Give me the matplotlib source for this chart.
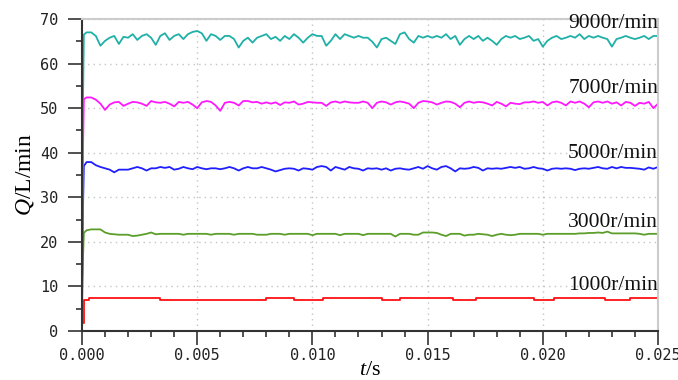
import numpy as np
import matplotlib
matplotlib.use("Agg")
import matplotlib.pyplot as plt
from matplotlib.ticker import MultipleLocator, FuncFormatter

plt.rcParams['mathtext.fontset'] = 'custom'
plt.rcParams['mathtext.rm'] = 'Liberation Serif'
plt.rcParams['mathtext.it'] = 'Liberation Serif:italic'

# simulation output, sample step 0.2 ms after start-up
DT = 0.0002

# start-up points (t, Q) common times
t_start = [0.0, 0.00004, 0.00008]

q9000_start = [0.0, 50.0, 66.5]
q9000 = [67.0, 67.0, 66.2, 64.0, 65.1, 65.8, 66.2, 64.4, 66.0, 65.8, 66.6, 65.3, 66.2, 66.6,
         65.8, 64.2, 66.2, 66.8, 65.3, 66.2, 66.6, 65.5, 66.6, 67.1, 67.3, 66.8, 65.1, 66.6,
         66.2, 65.3, 66.2, 66.2, 65.5, 63.6, 65.1, 65.8, 64.7, 65.8, 66.2, 66.6, 65.5, 66.0,
         65.1, 66.2, 65.5, 66.6, 65.8, 64.7, 65.8, 66.6, 66.2, 66.2, 64.0, 65.1, 66.6, 65.5,
         66.6, 66.2, 65.8, 66.2, 65.8, 65.8, 64.9, 63.6, 65.5, 65.8, 65.1, 64.4, 66.6, 67.0,
         65.5, 64.7, 66.2, 65.8, 66.2, 65.8, 66.2, 65.8, 66.6, 65.5, 66.2, 64.2, 65.5, 66.2,
         65.5, 66.2, 65.1, 65.8, 65.1, 64.2, 65.5, 66.2, 65.8, 66.2, 65.5, 65.8, 66.2, 65.1,
         65.5, 63.8, 65.1, 65.8, 66.2, 65.5, 65.8, 66.2, 65.8, 66.6, 65.5, 66.2, 65.8, 66.2,
         65.8, 65.5, 63.8, 65.5, 65.8, 66.2, 65.8, 65.5, 65.8, 66.2, 65.5, 66.2, 66.2]

q7000_start = [12.0, 40.0, 52.0]
q7000 = [52.4, 52.4, 51.9, 51.0, 49.6, 50.8, 51.3, 51.4, 50.5, 51.0, 51.4, 51.3, 51.0, 50.5,
         51.6, 51.3, 51.2, 51.4, 51.0, 50.4, 51.4, 51.2, 51.4, 50.8, 50.0, 51.3, 51.6, 51.4,
         50.6, 49.4, 51.2, 51.4, 51.2, 50.6, 51.6, 51.6, 51.3, 51.4, 51.0, 51.3, 51.0, 51.3,
         50.7, 51.3, 51.2, 51.5, 50.8, 51.0, 51.4, 51.3, 51.2, 51.2, 50.5, 51.3, 51.5, 51.2,
         51.5, 51.3, 51.2, 51.2, 51.5, 51.2, 50.0, 51.2, 51.5, 51.3, 50.8, 51.3, 51.5, 51.3,
         51.0, 50.0, 51.2, 51.6, 51.5, 51.3, 50.8, 51.2, 51.5, 51.4, 51.0, 50.2, 51.2, 51.5,
         51.2, 51.4, 51.3, 51.0, 50.6, 51.4, 51.0, 50.4, 51.2, 51.0, 50.9, 51.3, 51.3, 51.5,
         51.2, 51.4, 50.6, 51.3, 51.5, 51.2, 50.6, 51.5, 51.2, 51.5, 51.0, 50.2, 51.3, 51.5,
         51.2, 51.5, 51.0, 51.3, 50.6, 51.4, 51.2, 50.5, 51.2, 51.0, 51.4, 50.0, 51.0]

q5000_start = [8.0, 26.7, 37.0]
q5000 = [37.9, 37.9, 37.2, 36.8, 36.5, 36.2, 35.6, 36.2, 36.2, 36.2, 36.5, 36.8, 36.5, 36.0,
         36.5, 36.5, 36.8, 36.6, 36.8, 36.2, 36.4, 36.8, 36.5, 36.3, 36.8, 36.5, 36.3, 36.5,
         36.5, 36.3, 36.5, 36.8, 36.5, 36.0, 36.5, 36.8, 36.5, 36.5, 36.8, 36.5, 36.2, 35.8,
         36.1, 36.4, 36.5, 36.4, 36.0, 36.5, 36.4, 36.2, 36.8, 37.0, 36.8, 36.0, 36.8, 36.5,
         36.2, 36.8, 36.5, 36.4, 36.0, 36.5, 36.4, 36.5, 36.2, 36.5, 36.0, 36.4, 36.5, 36.3,
         36.2, 36.5, 36.8, 36.4, 37.0, 36.5, 36.2, 36.8, 37.0, 36.5, 35.8, 36.5, 36.4, 36.5,
         36.8, 36.6, 36.0, 36.5, 36.4, 36.5, 36.4, 36.6, 36.8, 36.6, 36.8, 36.4, 36.5, 36.8,
         36.5, 36.4, 36.0, 36.4, 36.5, 36.4, 36.5, 36.4, 36.1, 36.4, 36.5, 36.4, 36.6, 36.8,
         36.5, 36.4, 36.8, 36.5, 36.8, 36.6, 36.6, 36.5, 36.4, 36.2, 36.7, 36.4, 36.8]

q3000_start = [5.0, 16.0, 22.0]
q3000 = [22.6, 22.8, 22.8, 22.8, 22.1, 21.8, 21.7, 21.6, 21.6, 21.6, 21.3, 21.4, 21.6, 21.8,
         22.1, 21.7, 21.8, 21.8, 21.8, 21.8, 21.8, 21.6, 21.8, 21.8, 21.8, 21.8, 21.8, 21.6,
         21.8, 21.8, 21.8, 21.8, 21.6, 21.8, 21.8, 21.8, 21.8, 21.6, 21.6, 21.6, 21.8, 21.8,
         21.8, 21.6, 21.8, 21.8, 21.8, 21.8, 21.8, 21.5, 21.8, 21.8, 21.8, 21.8, 21.8, 21.5,
         21.8, 21.8, 21.8, 21.8, 21.5, 21.8, 21.8, 21.8, 21.8, 21.8, 21.8, 21.2, 21.8, 21.8,
         21.8, 21.6, 21.6, 22.1, 22.1, 22.1, 22.0, 21.6, 21.3, 21.8, 21.8, 21.8, 21.4, 21.6,
         21.6, 21.8, 21.7, 21.6, 21.3, 21.6, 21.8, 21.6, 21.5, 21.6, 21.8, 21.8, 21.8, 21.8,
         21.8, 21.6, 21.8, 21.8, 21.8, 21.8, 21.8, 21.8, 21.8, 21.9, 21.9, 22.0, 22.0, 22.1,
         22.0, 22.3, 21.9, 21.9, 21.9, 21.9, 21.9, 21.9, 21.8, 21.6, 21.8, 21.8, 21.8]

# 1000 r/min is a step signal: switching times and levels
t1000 = [0.0, 0.00002, 0.00008, 0.0003, 0.0034, 0.0080, 0.0092, 0.01046, 0.0130, 0.0138,
         0.0161, 0.0171, 0.0196, 0.0205, 0.0227, 0.0238, 0.025]
q1000 = [0.0, 1.8, 7.0, 7.4, 7.05, 7.4, 7.05, 7.4, 7.05, 7.4, 7.05, 7.4, 7.05, 7.4, 7.05,
         7.4, 7.4]

labels = ['9000r/min', '7000r/min', '5000r/min', '3000r/min', '1000r/min']
label_y = [68.0, 53.4, 38.8, 23.3, 9.3]


def series(q_start, q):
    t = list(t_start) + list(DT * np.arange(1, len(q) + 1))
    return t, list(q_start) + list(q)


fig = plt.figure(figsize=(6.78, 3.80), dpi=100)
ax = fig.add_axes([82 / 678, 1 - 331 / 380, 576 / 678, 312 / 380])

lw = 1.3
ax.plot(t1000, q1000, color='#ff1010', lw=lw, drawstyle='steps-post')
ax.plot(*series(q3000_start, q3000), color='#5c9e2a', lw=lw)
ax.plot(*series(q5000_start, q5000), color='#1f1fff', lw=lw)
ax.plot(*series(q7000_start, q7000), color='#ff18ff', lw=lw)
ax.plot(*series(q9000_start, q9000), color='#1fb0a8', lw=lw)

ax.set_xlim(0, 0.025)
ax.set_ylim(0, 70)
ax.xaxis.set_major_locator(MultipleLocator(0.005))
ax.xaxis.set_minor_locator(MultipleLocator(0.001))
ax.yaxis.set_major_locator(MultipleLocator(10))
ax.yaxis.set_minor_locator(MultipleLocator(5))
ax.xaxis.set_major_formatter(FuncFormatter(lambda v, p: "%.3f" % v))
ax.yaxis.set_major_formatter(FuncFormatter(lambda v, p: "%d" % round(v)))

ax.grid(which='major', color='#c4c4c4', linestyle=(0, (1, 3)), linewidth=1.0)
ax.set_axisbelow(True)

for side in ['left', 'bottom']:
    ax.spines[side].set_color('#333333')
    ax.spines[side].set_linewidth(1.5)
for side in ['top', 'right']:
    ax.spines[side].set_color('#cccccc')
    ax.spines[side].set_linewidth(1.5)

ax.tick_params(which='major', length=10, width=1.2, color='#333333', direction='out')
ax.tick_params(which='minor', length=4.5, width=1.2, color='#333333', direction='out')
ax.tick_params(axis='x', which='major', pad=2)
ax.tick_params(axis='y', which='major', pad=7)
for lab in ax.get_xticklabels() + ax.get_yticklabels():
    lab.set_family('DejaVu Sans Mono')
    lab.set_fontsize(11)
    lab.set_color('#222222')

for text, y in zip(labels, label_y):
    ax.text(0.0250, y, text, ha='right', va='baseline', family='Liberation Serif',
            fontsize=15.5, color='#111111')

ax.set_xlabel(r'$t$/s', fontsize=16, family='Liberation Serif', labelpad=-1)
ax.set_ylabel(r'$Q$/L/min', fontsize=17, family='Liberation Serif', labelpad=3)

fig.savefig('out.png', dpi=100)
